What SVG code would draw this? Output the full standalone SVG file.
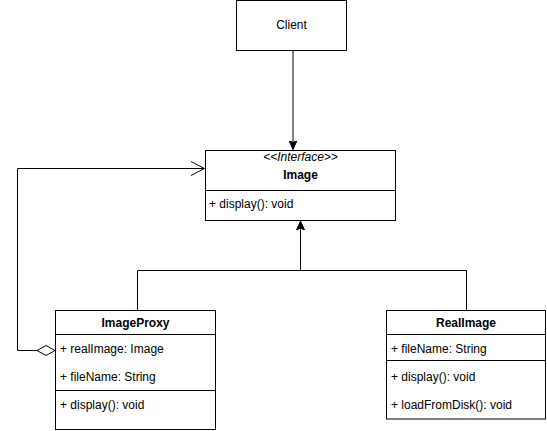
<svg xmlns="http://www.w3.org/2000/svg" width="547" height="431" viewBox="0 0 547 431">
<defs>
<style>
.box{fill:#fff;stroke:#000;stroke-width:1}
.ln{fill:none;stroke:#000;stroke-width:1}
.t{font-family:"Liberation Sans",Arial,sans-serif;font-size:12px;fill:#000}
.c{text-anchor:middle}
.b{font-weight:bold}
.i{font-style:italic}
</style>
<marker id="filled" markerWidth="10" markerHeight="10" refX="9" refY="5" orient="auto" markerUnits="userSpaceOnUse">
<path d="M0,1 L9,5 L0,9 L2,5 Z" fill="#000" stroke="#000" stroke-width="1"/>
</marker>
</defs>
<rect width="547" height="431" fill="#fff"/>
<g id="connectors">
<path class="ln" d="M293,50.5 V149.5" marker-end="url(#filled)"/>
<path class="ln" d="M137.5,310 V270.5 H466.5 V310"/>
<path class="ln" d="M300.5,270.5 V221" marker-end="url(#filled)"/>
<path class="ln" d="M37,350.5 H17.5 V168.5 H204.5"/>
<path class="ln" d="M191,161.5 L204.5,168.5 L191,175.5"/>
<path d="M37,350.5 L46,345.5 L55,350.5 L46,355.5 Z" fill="#fff" stroke="#000" stroke-width="1"/>
</g>
<g id="client">
<rect class="box" x="236.5" y="0.5" width="110" height="50"/>
<text class="t c" x="291.5" y="29">Client</text>
</g>
<g id="image">
<rect class="box" x="205.5" y="150.5" width="190" height="70"/>
<line class="ln" x1="205.5" y1="190.5" x2="395.5" y2="190.5"/>
<text class="t c i" x="300.5" y="161">&lt;&lt;Interface&gt;&gt;</text>
<text class="t c b" x="300.5" y="179">Image</text>
<text class="t" x="209" y="207.5">+ display(): void</text>
</g>
<g id="imageproxy">
<rect class="box" x="55.5" y="310.5" width="160" height="119"/>
<line class="ln" x1="55.5" y1="334.5" x2="215.5" y2="334.5"/>
<line class="ln" x1="55.5" y1="390.5" x2="215.5" y2="390.5"/>
<text class="t c b" x="135.5" y="326.5">ImageProxy</text>
<text class="t" x="60" y="352.5">+ realImage: Image</text>
<text class="t" x="60" y="381">+ fileName: String</text>
<text class="t" x="60" y="409">+ display(): void</text>
</g>
<g id="realimage">
<rect class="box" x="386.5" y="310.5" width="159" height="108.5"/>
<line class="ln" x1="386.5" y1="334.5" x2="545.5" y2="334.5"/>
<line class="ln" x1="386.5" y1="360.5" x2="545.5" y2="360.5"/>
<text class="t c b" x="466" y="326.5">RealImage</text>
<text class="t" x="391" y="352.5">+ fileName: String</text>
<text class="t" x="391" y="381">+ display(): void</text>
<text class="t" x="391" y="409">+ loadFromDisk(): void</text>
</g>
</svg>
